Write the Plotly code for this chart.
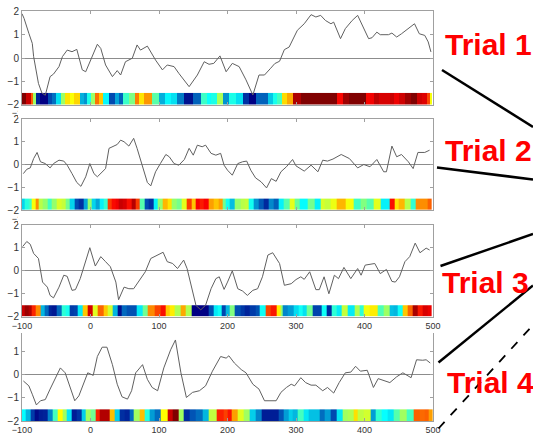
import plotly.graph_objects as go

# ---------------- data ----------------
trial1_x = [-100, -97, -90, -85, -83, -76, -71, -66, -59, -54, -46, -41, -34, -27, -20, -12, -7, -2, 2, 10, 15, 22,
            32, 39, 44, 51, 61, 68, 73, 83, 95, 105, 112, 122, 129, 144, 156, 166, 173, 180, 189, 198, 207,
            217, 227, 237, 246, 254, 263, 269, 276, 283, 290, 302, 312, 322, 329, 336, 343, 351, 355, 365,
            372, 382, 390, 397, 406, 411, 418, 423, 435, 440, 447, 454, 463, 473, 480, 488, 493, 497]
trial1_y = [1.9, 1.7, 1.06, 0.63, 0.06, -1.09, -1.5, -1.6, -0.8, -0.69, -0.37, 0.06, 0.34, 0.27, 0.37, -0.51,
            -0.59, -0.23, 0.06, 0.59, 0.41, -0.3, -0.8, -0.54, -0.73, -0.16, -0.01, 0.56, 0.34, 0.51, -0.09,
            -0.51, -0.3, -0.37, -0.66, -1.23, -0.73, -0.16, -0.27, -0.23, 0.09, -0.59, -0.23, -0.37, -0.94,
            -1.59, -0.73, -0.73, -0.44, -0.24, -0.14, 0.36, 0.47, 1.19, 1.47, 1.86, 1.76, 1.83, 1.61, 1.47,
            1.54, 0.83, 1.26, 1.61, 1.83, 1.4, 0.83, 0.87, 1.11, 1.0, 1.0, 1.07, 0.9, 1.04, 1.26, 1.47, 1.04,
            0.97, 0.69, 0.26]

trial2_x = [-98, -93, -88, -83, -78, -73, -66, -59, -54, -46, -39, -34, -27, -20, -14, -7, -1, 5, 10, 17, 22,
            27, 34, 39, 44, 49, 56, 63, 68, 76, 83, 88, 95, 102, 110, 115, 122, 129, 137, 144, 150, 156, 163,
            168, 176, 183, 190, 195, 200, 207, 215, 222, 228, 234, 241, 249, 257, 264, 271, 278, 286, 295,
            300, 312, 322, 332, 339, 346, 354, 366, 378, 390, 399, 408, 418, 428, 432, 440, 447, 454, 464,
            471, 478, 488, 495]
trial2_y = [-0.4, -0.21, -0.15, 0.26, 0.53, 0.12, 0.04, -0.15, 0.04, 0.19, 0.15, -0.03, -0.4, -0.79, -0.96,
            -0.54, 0.04, -0.4, -0.54, -0.32, -0.18, 0.71, 0.82, 0.88, 1.07, 1.0, 0.81, 1.15, 0.71, -0.1, -0.79,
            -0.94, -0.32, 0.04, 0.44, 0.34, 0.04, -0.03, 0.22, 0.71, 0.41, 0.85, 0.78, 0.85, 0.49, 0.41, 0.49,
            -0.03, -0.25, -0.47, 0.04, 0.12, 0.15, -0.25, -0.59, -0.76, -1.03, -0.62, -0.74, -0.32, -0.1, 0.22,
            -0.06, -0.29, -0.03, -0.32, 0.19, 0.15, 0.24, 0.44, 0.26, -0.15, 0.0, -0.1, 0.22, -0.32, -0.32,
            0.81, 0.34, 0.44, 0.12, -0.18, 0.53, 0.53, 0.63]

trial3_x = [-99, -93, -88, -83, -76, -70, -63, -59, -54, -46, -39, -34, -27, -22, -15, -7, -1, 7, 15, 22, 29,
            37, 41, 49, 56, 63, 73, 80, 88, 98, 106, 112, 120, 127, 136, 141, 154, 161, 168, 176, 183, 188,
            195, 200, 207, 215, 222, 229, 237, 244, 251, 259, 266, 276, 278, 283, 293, 300, 307, 312, 320,
            329, 334, 341, 348, 356, 362, 370, 380, 390, 395, 401, 415, 423, 432, 440, 445, 451, 459, 466,
            474, 481, 490, 495]
trial3_y = [1.06, 1.28, 1.16, 0.76, 0.54, -0.49, -0.71, -1.07, -1.18, -0.71, -0.19, -0.24, -0.85, -0.82,
            -0.34, 0.4, 1.01, 0.21, 0.62, 0.4, 0.18, -0.49, -1.26, -0.71, -0.78, -0.78, -0.34, -0.04, 0.54,
            0.69, 0.81, 0.4, 0.32, 0.1, 0.47, 0.1, -1.51, -1.7, -1.5, -0.78, -0.34, -0.26, -0.81, -0.49, 0.0,
            -0.78, -0.88, -1.07, -0.85, -0.78, -0.26, 0.69, 0.79, 0.32, 0.03, -0.63, -0.56, -0.38, -0.26,
            -0.37, -0.04, -0.82, -0.82, -0.26, -1.0, -0.19, -0.34, 0.15, -0.34, 0.1, -0.19, 0.25, 0.32,
            -0.12, 0.06, -0.46, -0.49, -0.26, 0.4, 0.62, 1.21, 0.79, 0.99, 0.91]

trial4_x = [-98, -90, -85, -79, -73, -66, -59, -51, -44, -37, -32, -23, -17, -10, -4, 4, 10, 17, 24, 32, 39,
            46, 54, 60, 66, 76, 83, 90, 98, 107, 117, 124, 132, 140, 149, 159, 168, 178, 190, 198, 202, 210,
            220, 227, 237, 246, 254, 262, 271, 278, 286, 293, 298, 307, 314, 322, 329, 339, 346, 355, 363,
            372, 380, 387, 394, 404, 413, 420, 430, 437, 447, 456, 468, 476, 485, 490, 496]
trial4_y = [-0.28, -0.49, -0.85, -1.31, -1.13, -1.08, -0.63, -0.14, 0.28, 0.07, -0.35, -1.13, -0.92, -0.42,
            0.07, -0.04, 0.77, 1.17, 1.17, 0.42, -0.42, -0.96, -1.06, -0.7, 0.07, 0.42, -0.21, -0.56, -0.7,
            0.28, 1.06, 1.48, 0.07, -0.99, -0.77, -0.7, -0.49, 0.14, 0.77, 0.7, 0.8, 0.49, 0.21, 0.07, -0.42,
            -0.63, -1.13, -1.13, -1.13, -0.77, -0.56, -0.42, -0.49, -0.14, -0.35, -0.46, -0.46, -0.7, -0.56,
            -0.8, -0.35, 0.07, 0.1, 0.35, 0.14, 0.18, -0.56, -0.18, -0.28, -0.35, -0.1, 0.07, -0.14, 0.63,
            0.61, 0.63, 0.49]

trial_labels = ["Trial 1", "Trial 2", "Trial 3", "Trial 4"]
x_ticks = [-100, 0, 100, 200, 300, 400, 500]
y_ticks = [-2, -1, 0, 1, 2]

trials = [(trial1_x, trial1_y), (trial2_x, trial2_y), (trial3_x, trial3_y), (trial4_x, trial4_y)]

# ---------------- layout geometry ----------------
W, H = 533, 433
def px_x(p):
    return p / W
def px_y(p):
    return 1 - p / H

x_dom = [px_x(22), px_x(433)]
# (top pixel, bottom pixel, top value)
panels = [(11.4, 104.6, 2.0), (119, 210, 2.0), (225, 316.7, 2.0), (333, 421, 1.78)]

fig = go.Figure()
axis_col = "#a0a0a0"
x_tick_font = dict(family="Liberation Sans, Arial, sans-serif", size=9, color="#333333")
y_tick_font = dict(family="Liberation Sans, Arial, sans-serif", size=10, color="#333333")

for i, ((xs, ys), (ptop, pbot, ytop)) in enumerate(zip(trials, panels)):
    n = i + 1
    xa = "x" if n == 1 else f"x{n}"
    ya = "y" if n == 1 else f"y{n}"
    fig.add_trace(go.Scatter(x=xs, y=ys, mode="lines", xaxis=xa, yaxis=ya,
                             line=dict(color="#606060", width=1), showlegend=False,
                             hoverinfo="skip"))
    fig.add_trace(go.Heatmap(x=xs, y=[-2, -1.5], z=[ys], xaxis=xa, yaxis=ya,
                             colorscale="Jet", zmin=-1.4, zmax=1.4, zsmooth=False,
                             showscale=False, hoverinfo="skip"))
    full = i < 3
    fig.update_layout(**{
        ("xaxis" if n == 1 else f"xaxis{n}"): dict(
            domain=x_dom, anchor=ya, range=[-100, 500], tickvals=x_ticks,
            ticks="inside", ticklen=3, tickcolor=axis_col, showline=True, linecolor=axis_col,
            linewidth=1, mirror="ticks" if full else False, showgrid=False, zeroline=False,
            tickfont=x_tick_font, showticklabels=True, automargin=False),
        ("yaxis" if n == 1 else f"yaxis{n}"): dict(
            domain=[px_y(pbot), px_y(ptop)], anchor=xa, range=[-2, ytop],
            tickvals=[t for t in y_ticks if t <= ytop], ticks="inside", ticklen=3, tickcolor=axis_col,
            showline=True, linecolor=axis_col, linewidth=1, mirror="ticks", showgrid=False,
            zeroline=True, zerolinecolor="#8c8c8c", zerolinewidth=1, tickfont=y_tick_font,
            automargin=False),
    })

# covers that cut off the x tick labels of the two upper panels (as in the reference)
shapes = [
    dict(type="rect", xref="paper", yref="paper", layer="above",
         x0=px_x(18), x1=px_x(445), y0=px_y(117.5), y1=px_y(109.5),
         fillcolor="white", line=dict(width=0)),
    dict(type="rect", xref="paper", yref="paper", layer="above",
         x0=px_x(18), x1=px_x(445), y0=px_y(223.5), y1=px_y(214.5),
         fillcolor="white", line=dict(width=0)),
]
# connector lines
for (x0, y0, x1, y1, dash, w) in [
    (442, 70, 533, 127, "solid", 2.5),
    (437, 167.5, 533, 179.5, "solid", 2.5),
    (440.5, 266, 533, 234, "solid", 2.5),
    (438.5, 362.5, 533, 285.5, "solid", 2.5),
    (438.5, 428.5, 533, 325, "dash", 1.8),
]:
    shapes.append(dict(type="line", xref="paper", yref="paper",
                       x0=px_x(x0), y0=px_y(y0), x1=px_x(x1), y1=px_y(y1),
                       line=dict(color="black", width=w, dash=dash)))

label_pos = [(443, 44.5), (443, 150), (440, 282.5), (445, 382.5)]
annotations = []
for lab, (lx, ly) in zip(trial_labels, label_pos):
    annotations.append(dict(text=f"<b>{lab}</b>", xref="paper", yref="paper",
                            x=px_x(lx), y=px_y(ly), xanchor="left", yanchor="middle",
                            showarrow=False,
                            font=dict(family="Liberation Sans, Arial, sans-serif", size=30,
                                      color="#ff0000")))

fig.update_layout(width=W, height=H,
                  margin=dict(l=0, r=0, t=0, b=0, pad=0, autoexpand=False),
                  paper_bgcolor="white", plot_bgcolor="white",
                  shapes=shapes, annotations=annotations, showlegend=False)

fig.write_html("out.html", config={"displayModeBar": False},
               post_script="document.body.style.margin='0';document.body.style.overflow='hidden';")
